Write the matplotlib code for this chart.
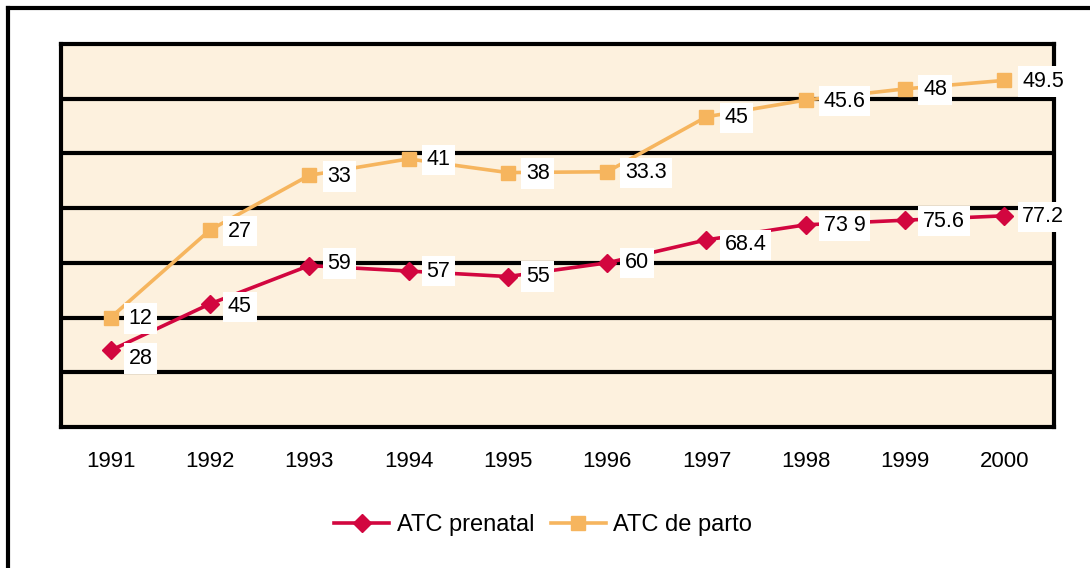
import matplotlib
matplotlib.use("Agg")
import matplotlib.pyplot as plt
import numpy as np
from matplotlib.lines import Line2D

plt.rcParams['font.family'] = ['Liberation Sans', 'DejaVu Sans']

years = ["1991", "1992", "1993", "1994", "1995", "1996", "1997", "1998", "1999", "2000"]
prenatal = [28, 45, 59, 57, 55, 60, 68.4, 73.9, 75.6, 77.2]
parto = [12, 27, 33, 41, 38, 33.3, 45, 45.6, 48, 49.5]
prenatal_labels = ["28", "45", "59", "57", "55", "60", "68.4", "73 9", "75.6", "77.2"]
parto_labels = ["12", "27", "33", "41", "38", "33.3", "45", "45.6", "48", "49.5"]

c_pre = "#D2063F"
c_par = "#F6B55E"
bg = "#FDF1DE"

fig = plt.figure(figsize=(10.9, 5.68), dpi=100)
ax = fig.add_axes([61/1090, 1 - 427/568, (1054 - 61)/1090, (427 - 44)/568])
ax.set_facecolor(bg)

x = np.arange(len(years))
pre = np.array(prenatal)
stack = pre + np.array(parto)

ax.plot(x, pre, color=c_pre, lw=2.6, marker='D', ms=9.5, mec=c_pre, mfc=c_pre, zorder=4, label="ATC prenatal")
ax.plot(x, stack, color=c_par, lw=2.6, marker='s', ms=10.5, mec=c_par, mfc=c_par, zorder=4, label="ATC de parto")

box = dict(boxstyle="square,pad=0.22", fc="white", ec="none")
pre_dy = [-8, -3, 2, 0, 0, 0, -5, -1, -1, -1]
for i in range(len(x)):
    ax.annotate(prenatal_labels[i], (x[i], pre[i]), xytext=(18, pre_dy[i]), textcoords='offset pixels',
                ha='left', va='center', fontsize=15.5, bbox=box, zorder=5)
    ax.annotate(parto_labels[i], (x[i], stack[i]), xytext=(18, -1), textcoords='offset pixels',
                ha='left', va='center', fontsize=15.5, bbox=box, zorder=5)

ax.set_xlim(-0.5, len(years) - 0.5)
ax.set_ylim(0, 140)
ax.set_yticks(np.arange(20, 140, 20))
ax.yaxis.grid(True, color='black', lw=3)
ax.set_axisbelow(True)
ax.tick_params(axis='y', left=False, labelleft=False)
ax.set_xticks(x)
ax.set_xticklabels(years, fontsize=16)
ax.tick_params(axis='x', length=0, pad=17)
for s in ax.spines.values():
    s.set_linewidth(3)
    s.set_color('black')

fig.legend(loc='center', bbox_to_anchor=(543/1090, 1 - 525/568), ncol=2, frameon=False,
           fontsize=17, handlelength=2.35, columnspacing=0.7, handletextpad=0.3)

# outer frame
fig.add_artist(Line2D([8/1090, 8/1090], [0, 1 - 8/568], color='black', lw=3, transform=fig.transFigure))
fig.add_artist(Line2D([8/1090, 1], [1 - 8/568, 1 - 8/568], color='black', lw=3, transform=fig.transFigure))

fig.savefig("out.png", dpi=100)
